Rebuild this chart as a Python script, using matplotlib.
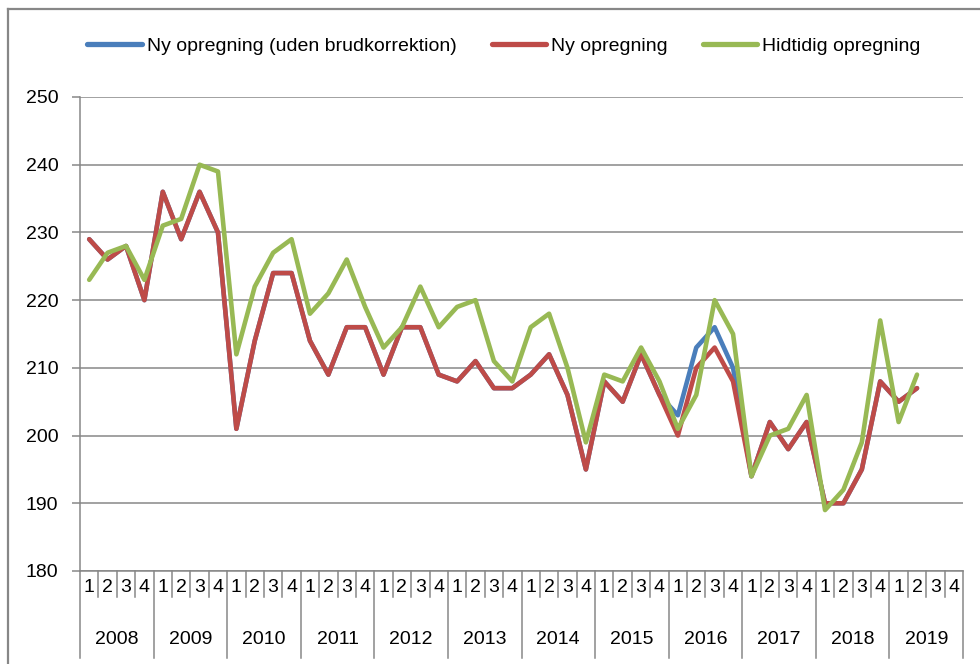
import matplotlib
matplotlib.use("Agg")
import matplotlib.pyplot as plt
from matplotlib.transforms import blended_transform_factory
from matplotlib.lines import Line2D

plt.rcParams["font.family"] = ["Liberation Sans", "DejaVu Sans"]

years = [str(y) for y in range(2008, 2020)]
quarters = ["1", "2", "3", "4"]

# 2008Q1 .. 2019Q2
ny_opregning = [229, 226, 228, 220, 236, 229, 236, 230,
                201, 214, 224, 224, 214, 209, 216, 216,
                209, 216, 216, 209, 208, 211, 207, 207,
                209, 212, 206, 195, 208, 205, 212, 206,
                200, 210, 213, 208, 194, 202, 198, 202,
                190, 190, 195, 208, 205, 207]
uden_brud = [229, 226, 228, 220, 236, 229, 236, 230,
             201, 214, 224, 224, 214, 209, 216, 216,
             209, 216, 216, 209, 208, 211, 207, 207,
             209, 212, 206, 195, 208, 205, 212, 206,
             203, 213, 216, 210, 194, 202, 198, 202,
             190, 190, 195, 208, 205, 207]
hidtidig = [223, 227, 228, 223, 231, 232, 240, 239,
            212, 222, 227, 229, 218, 221, 226, 219,
            213, 216, 222, 216, 219, 220, 211, 208,
            216, 218, 210, 199, 209, 208, 213, 208,
            201, 206, 220, 215, 194, 200, 201, 206,
            189, 192, 199, 217, 202, 209]

BLUE = "#4a7ebb"
RED = "#be4b48"
GREEN = "#98b954"
GRAY = "#878787"
FS = 14
LW = 3.3

W, H = 980, 664
fig = plt.figure(figsize=(W / 100, H / 100), dpi=100)
ax = fig.add_axes([80 / W, 1 - 571 / H, 883 / W, 474 / H])

n_cat = len(years) * len(quarters)
x = [i + 0.5 for i in range(len(ny_opregning))]
ax.plot(x, uden_brud, color=BLUE, lw=LW, solid_capstyle="round",
        label="Ny opregning (uden brudkorrektion)")
ax.plot(x, ny_opregning, color=RED, lw=LW, solid_capstyle="round",
        label="Ny opregning")
ax.plot(x, hidtidig, color=GREEN, lw=LW, solid_capstyle="round",
        label="Hidtidig opregning")

ax.set_xlim(0, n_cat)
ax.set_ylim(180, 250)
ax.set_yticks(range(180, 251, 10))
ax.yaxis.grid(True, color=GRAY, lw=1.1)
ax.set_axisbelow(True)
ax.tick_params(axis="y", length=5.5, width=1.1, color=GRAY, pad=10, labelsize=FS)
ax.set_xticks([])
for s in ["top", "right"]:
    ax.spines[s].set_visible(False)
for s in ["left", "bottom"]:
    ax.spines[s].set_color(GRAY)
    ax.spines[s].set_linewidth(1.1)

# two-level category axis
tr = blended_transform_factory(ax.transData, fig.transFigure)
y_axis = 1 - 571 / H
y_qline = 1 - 597 / H
y_yline = 1 - 658 / H
for i in range(n_cat + 1):
    bottom = y_yline if i % 4 == 0 else y_qline
    ax.plot([i, i], [y_axis, bottom], color=GRAY, lw=1.1, transform=tr,
            clip_on=False)
for i in range(n_cat):
    ax.text(i + 0.5, 1 - 588 / H, quarters[i % 4], ha="center", va="center",
            fontsize=FS, transform=tr)
for k, yr in enumerate(years):
    ax.text(4 * k + 2, 1 - 640 / H, yr, ha="center", va="center",
            fontsize=FS, transform=tr)

leg = fig.legend(loc="center", bbox_to_anchor=(504 / W, 1 - 46 / H), ncol=3,
                 frameon=False, fontsize=FS, handlelength=2.8,
                 handletextpad=0.26, columnspacing=1.8)
for h in leg.get_lines():
    h.set_linewidth(3.8)

# outer chart frame
fig.add_artist(Line2D([8 / W, 8 / W], [0, 1 - 9 / H], color=GRAY, lw=1.6))
fig.add_artist(Line2D([8 / W, 1], [1 - 9 / H, 1 - 9 / H], color=GRAY, lw=1.6))

fig.savefig("out.png", dpi=100)
